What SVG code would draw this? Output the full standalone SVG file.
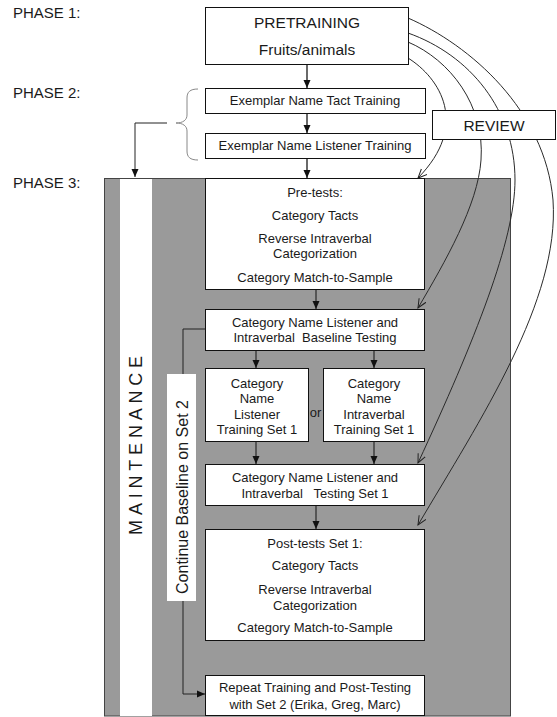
<svg xmlns="http://www.w3.org/2000/svg" width="557" height="717" viewBox="0 0 557 717">
<defs>
<marker id="ah" markerUnits="userSpaceOnUse" markerWidth="8" markerHeight="8" viewBox="0 0 8 8" refX="8" refY="4" orient="auto">
<path d="M0,0.5 L8,4 L0,7.5 z" fill="#111"/>
</marker>
<marker id="av" markerUnits="userSpaceOnUse" markerWidth="10" markerHeight="10" viewBox="0 0 10 10" refX="9" refY="5" orient="auto">
<path d="M0,1 L9,5 L0,9" fill="none" stroke="#222" stroke-width="1"/>
</marker>
<style>
text{font-family:"Liberation Sans",Arial,sans-serif;fill:#1a1a1a;text-anchor:middle}
.ph{font-size:15px;text-anchor:start}
.t13{font-size:13px}
.big{font-size:15.5px}
.box{fill:#fff;stroke:#111;stroke-width:1}
.flow{fill:none;stroke:#444;stroke-width:1.6;marker-end:url(#ah)}
.thin{fill:none;stroke:#222;stroke-width:1}
.rev{fill:none;stroke:#2a2a2a;stroke-width:1;marker-end:url(#av)}
</style>
</defs>
<rect width="557" height="717" fill="#fff"/>
<g id="phase-labels">
<text class="ph" x="13" y="18">PHASE 1:</text>
<text class="ph" x="13" y="98">PHASE 2:</text>
<text class="ph" x="13" y="188">PHASE 3:</text>
</g>
<g id="phase3-area">
<rect x="104.5" y="178.5" width="406" height="537.5" fill="#9a9a9a" stroke="#444" stroke-width="1"/>
</g>
<g id="maintenance">
<rect x="120" y="179" width="32" height="537" fill="#fff"/>
<text transform="translate(142,443) rotate(-90)" style="font-size:18px;letter-spacing:4.8px">MAINTENANCE</text>
</g>
<g id="continue-baseline">
<rect x="167" y="374" width="29" height="227" fill="#fff"/>
<text transform="translate(187.5,497) rotate(-90)" style="font-size:16px">Continue Baseline on Set 2</text>
</g>
<g id="connectors">
<path class="flow" d="M307,64 V88"/>
<path class="flow" d="M307,113 V133"/>
<path class="flow" d="M307,158 V178"/>
<path class="flow" d="M316,289 V309"/>
<path class="flow" d="M256,350 V368"/>
<path class="flow" d="M374,350 V368"/>
<path class="flow" d="M256,441 V464"/>
<path class="flow" d="M374,441 V464"/>
<path class="flow" d="M316,505 V529"/>
<path d="M198,89 C190,89 187,92 187,98 L187,115 C187,120 183,123 176,123 C183,123 187,126 187,131 L187,151 C187,157 190,160 198,160" fill="none" stroke="#888" stroke-width="1"/>
<path class="thin" d="M167,123 H135 V177" marker-end="url(#ah)"/>
<path class="thin" d="M205,329 H183 V374"/>
<path class="thin" d="M183,601 V694 H205" marker-end="url(#ah)"/>
<path class="rev" d="M408,58 C440,78 470,125 418,178"/>
<path class="rev" d="M408,42 C450,60 485,105 481,160 C478,205 445,262 418,308"/>
<path class="rev" d="M408,33 C470,55 515,110 515,180 C515,240 475,340 418,463"/>
<path class="rev" d="M408,18 C470,45 545,110 553,200 C560,300 480,420 418,525"/>
</g>
<g id="pretraining">
<rect class="box" x="205.5" y="7.5" width="203" height="57"/>
<text class="big" x="307" y="28">PRETRAINING</text>
<text class="big" x="307" y="55">Fruits/animals</text>
</g>
<g id="tact-training">
<rect class="box" x="205.5" y="88.5" width="220" height="25"/>
<text class="t13" x="315" y="105">Exemplar Name Tact Training</text>
</g>
<g id="listener-training">
<rect class="box" x="205.5" y="133.5" width="220" height="25"/>
<text class="t13" x="315" y="150">Exemplar Name Listener Training</text>
</g>
<g id="review">
<rect class="box" x="432.5" y="110.5" width="123" height="29"/>
<text class="big" x="494" y="131">REVIEW</text>
</g>
<g id="pre-tests">
<rect class="box" x="205.5" y="178.5" width="219" height="111"/>
<text class="t13" x="315" y="197">Pre-tests:</text>
<text class="t13" x="315" y="220">Category Tacts</text>
<text class="t13" x="315" y="243">Reverse Intraverbal</text>
<text class="t13" x="315" y="258">Categorization</text>
<text class="t13" x="315" y="282">Category Match-to-Sample</text>
</g>
<g id="baseline-testing">
<rect class="box" x="205.5" y="309.5" width="219" height="41"/>
<text class="t13" x="315" y="327">Category Name Listener and</text>
<text class="t13" x="315" y="342" xml:space="preserve">Intraverbal  Baseline Testing</text>
</g>
<g id="listener-set1">
<rect class="box" x="205.5" y="368.5" width="103" height="73"/>
<text class="t13" x="257" y="388">Category</text>
<text class="t13" x="257" y="403">Name</text>
<text class="t13" x="257" y="419">Listener</text>
<text class="t13" x="257" y="434">Training Set 1</text>
</g>
<g id="or-label">
<text class="t13" x="315.5" y="417">or</text>
</g>
<g id="intraverbal-set1">
<rect class="box" x="323.5" y="368.5" width="101" height="73"/>
<text class="t13" x="374" y="388">Category</text>
<text class="t13" x="374" y="403">Name</text>
<text class="t13" x="374" y="419">Intraverbal</text>
<text class="t13" x="374" y="434">Training Set 1</text>
</g>
<g id="testing-set1">
<rect class="box" x="205.5" y="464.5" width="219" height="41"/>
<text class="t13" x="315" y="482">Category Name Listener and</text>
<text class="t13" x="315" y="498" xml:space="preserve">Intraverbal   Testing Set 1</text>
</g>
<g id="post-tests">
<rect class="box" x="205.5" y="529.5" width="219" height="111"/>
<text class="t13" x="315" y="548">Post-tests Set 1:</text>
<text class="t13" x="315" y="570">Category Tacts</text>
<text class="t13" x="315" y="594">Reverse Intraverbal</text>
<text class="t13" x="315" y="610">Categorization</text>
<text class="t13" x="315" y="632">Category Match-to-Sample</text>
</g>
<g id="repeat">
<rect class="box" x="205.5" y="675.5" width="219" height="40"/>
<text class="t13" x="315" y="692">Repeat Training and Post-Testing</text>
<text class="t13" x="315" y="709">with Set 2 (Erika, Greg, Marc)</text>
</g>
</svg>
